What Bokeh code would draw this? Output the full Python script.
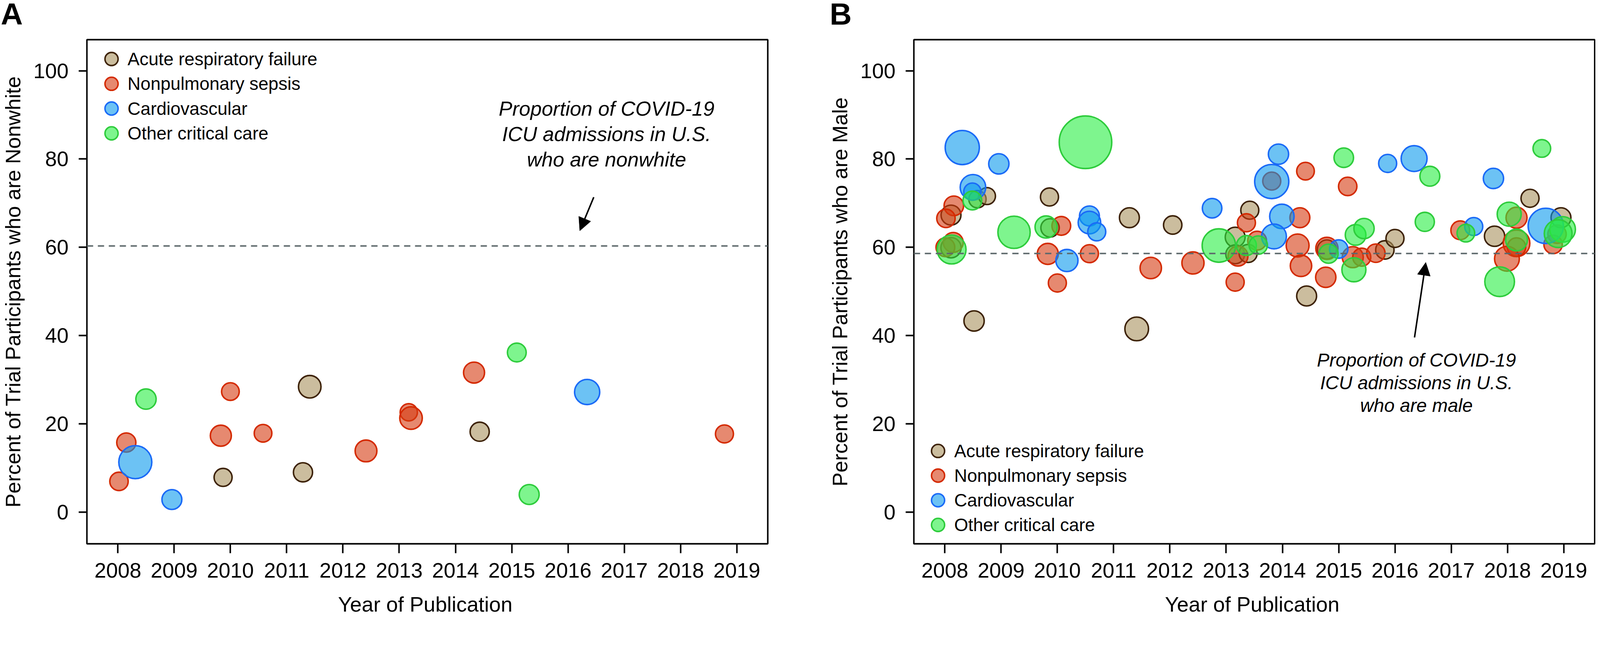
from bokeh.plotting import figure
from bokeh.models import (Span, Label, Arrow, NormalHead, FixedTicker,
                          ColumnDataSource, Range1d, Div)
from bokeh.layouts import row, column
from bokeh.embed import file_html
from bokeh.resources import INLINE

# ---------------- data ----------------
CATEGORIES = ["Acute respiratory failure", "Nonpulmonary sepsis",
              "Cardiovascular", "Other critical care"]
YEAR_TICKS = list(range(2008, 2020))
PCT_TICKS = [0, 20, 40, 60, 80, 100]
X_TITLE = "Year of Publication"

# Panel A: percent nonwhite (year, percent, relative bubble diameter)
A_arf_year = [2011.41, 2009.87, 2011.29, 2014.43]
A_arf_pct = [28.4, 7.85, 9.0, 18.2]
A_arf_bub = [64, 52, 55, 55]
A_sep_year = [2010.0, 2013.17, 2013.21, 2008.15, 2008.02, 2009.83, 2010.58, 2012.41, 2014.33, 2018.78]
A_sep_pct = [27.3, 22.6, 21.3, 15.75, 6.95, 17.3, 17.85, 13.85, 31.6, 17.7]
A_sep_bub = [51, 50, 64, 55, 53, 60, 51, 62, 60, 52]
A_cv_year = [2008.31, 2008.96, 2016.34]
A_cv_pct = [11.3, 2.83, 27.2]
A_cv_bub = [92, 57, 71]
A_oth_year = [2008.50, 2015.09, 2015.31]
A_oth_pct = [25.6, 36.15, 3.97]
A_oth_bub = [58, 54, 57]
A_covid_ref = 60.3

# Panel B: percent male
B_arf_year = [2008.58, 2008.75, 2008.11, 2009.86, 2009.87, 2008.11, 2008.52, 2011.41, 2011.28,
              2012.05, 2013.16, 2013.42, 2013.16, 2013.39, 2014.43, 2014.79, 2015.82, 2016.0,
              2018.40, 2017.77, 2018.95]
B_arf_pct = [70.9, 71.6, 67.3, 71.4, 64.4, 59.9, 43.3, 41.5, 66.7,
             65.05, 62.3, 68.4, 58.4, 58.6, 48.96, 59.5, 59.4, 62.0,
             71.1, 62.5, 66.7]
B_arf_bub = [50, 49, 57, 52, 53, 58, 58, 67, 57,
             53, 57, 52, 54, 52, 57, 55, 53, 52,
             52, 58, 57]
B_sep_year = [2008.16, 2008.02, 2010.07, 2009.83, 2010.0, 2010.57, 2008.15, 2008.01, 2011.66,
              2012.41, 2013.36, 2013.16, 2013.21, 2013.55, 2013.81, 2014.41, 2014.31, 2014.27,
              2014.33, 2014.77, 2014.79, 2015.16, 2015.25, 2015.41, 2015.66, 2017.16, 2018.16,
              2018.16, 2018.16, 2017.99, 2018.88, 2018.81]
B_sep_pct = [69.4, 66.55, 64.85, 58.5, 51.9, 58.55, 61.1, 60.0, 55.3,
             56.45, 65.55, 52.1, 58.0, 61.5, 75.0, 77.25, 66.7, 60.4,
             55.8, 53.2, 59.75, 73.8, 57.76, 57.76, 58.66, 63.85, 66.7,
             60.9, 60.05, 57.4, 62.98, 60.65]
B_sep_bub = [56, 53, 54, 60, 52, 52, 57, 54, 61,
             63, 52, 52, 57, 54, 52, 51, 57, 65,
             61, 58, 63, 53, 60, 52, 53, 54, 60,
             75, 53, 70, 53, 53]
B_cv_year = [2008.31, 2008.96, 2008.50, 2008.49, 2010.57, 2010.57, 2010.70, 2010.17, 2012.75,
             2013.93, 2013.81, 2013.99, 2013.85, 2015.0, 2015.87, 2016.34, 2017.75, 2017.40,
             2018.68]
B_cv_pct = [82.6, 78.9, 73.6, 72.6, 67.1, 65.6, 63.5, 57.0, 68.85,
            81.1, 74.9, 67.0, 62.45, 59.6, 79.0, 80.1, 75.6, 64.7,
            64.85]
B_cv_bub = [95, 58, 72, 50, 57, 64, 52, 63, 56,
            58, 95, 69, 70, 53, 52, 73, 58, 52,
            98]
B_oth_year = [2010.50, 2008.49, 2009.23, 2009.80, 2008.12, 2012.87, 2013.36, 2013.57, 2014.82,
              2015.09, 2015.30, 2015.45, 2015.27, 2016.62, 2016.53, 2018.61, 2017.26, 2018.03,
              2018.16, 2017.86, 2018.98, 2018.90]
B_oth_pct = [83.8, 70.6, 63.4, 64.6, 59.5, 60.4, 60.4, 60.5, 58.55,
             80.3, 62.8, 64.25, 54.9, 76.1, 65.76, 82.4, 63.2, 67.5,
             61.65, 52.2, 64.05, 63.1]
B_oth_bub = [144, 54, 90, 63, 81, 93, 57, 53, 55,
             56, 59, 58, 68, 57, 55, 51, 51, 68,
             62, 83, 72, 78]
B_covid_ref = 58.6

# ---------------- styles / layout (CSS px) ----------------
FONT = "Liberation Sans"
FILLS = ["#a8915d", "#d53a11", "#0a99ed", "#28ee43"]
LINES = ["#3d2208", "#d42a00", "#1a6af7", "#2ecc3c"]
K = 0.9606           # bubble diameter scale to CSS px
LW = 3.85
X0, X1 = 2007.45, 2019.55
Y0, Y1 = -7.2, 107.05
FW, FH = 1753, 1290
BL, BT, BB = 212, 28, 110
RA, RB = 152, 2
FIG_H = BT + FH + BB
LETTER_H = 73
XTITLE_H = 69


def fx(px):
    """frame pixel offset from the left edge -> data x"""
    return X0 + px * (X1 - X0) / FW


def fy(py):
    """frame pixel offset from the top edge -> data y"""
    return Y1 - py * (Y1 - Y0) / FH


def make_panel(ylabel, series, ref, note, note_px, note_py, note_size, note_step,
               arrow_px, legend_px, border_right):
    p = figure(width=BL + FW + border_right, height=FIG_H, title=None,
               x_range=Range1d(X0, X1), y_range=Range1d(Y0, Y1),
               output_backend="svg", toolbar_location=None,
               min_border_left=BL, min_border_right=border_right,
               min_border_top=BT, min_border_bottom=BB)
    p.background_fill_color = "white"
    p.border_fill_color = "white"
    p.outline_line_color = "black"
    p.outline_line_width = LW
    p.xgrid.visible = False
    p.ygrid.visible = False

    p.xaxis.ticker = FixedTicker(ticks=YEAR_TICKS)
    p.yaxis.ticker = FixedTicker(ticks=PCT_TICKS)
    for ax in (p.xaxis[0], p.yaxis[0]):
        ax.axis_line_color = None
        ax.major_tick_line_color = "black"
        ax.major_tick_line_width = LW
        ax.major_tick_in = 0
        ax.minor_tick_line_color = None
        ax.major_label_text_font = FONT
        ax.major_label_text_font_size = "54px"
        ax.major_label_text_color = "black"
        ax.axis_label_text_font = FONT
        ax.axis_label_text_font_size = "53.8px"
        ax.axis_label_text_font_style = "normal"
        ax.axis_label_text_color = "black"
    p.xaxis.major_tick_out = 24
    p.yaxis.major_tick_out = 21
    p.xaxis.major_label_standoff = 25
    p.yaxis.major_label_standoff = 26
    p.yaxis.axis_label = ylabel
    p.yaxis.axis_label_standoff = 19

    p.add_layout(Span(location=ref, dimension="width", line_color="#5d686b",
                      line_width=LW, line_dash="16 12"))

    for cat, (xs, ys, bs), fc, lc in zip(CATEGORIES, series, FILLS, LINES):
        src = ColumnDataSource(dict(x=xs, y=ys, s=[b * K - LW for b in bs]))
        p.scatter("x", "y", size="s", source=src, fill_color=fc, fill_alpha=0.6,
                  line_color=lc, line_width=LW)

    # legend (marker + label per category)
    gx, tx, gy0, step = legend_px
    for i, (cat, fc, lc) in enumerate(zip(CATEGORIES, FILLS, LINES)):
        p.scatter([fx(gx)], [fy(gy0 + i * step)], size=33.6, fill_color=fc, fill_alpha=0.6,
                  line_color=lc, line_width=LW)
        p.add_layout(Label(x=fx(tx), y=fy(gy0 + i * step), text=cat, text_font=FONT,
                           text_font_size="46px", text_align="left",
                           text_baseline="middle", text_color="black"))

    for i, line in enumerate(note):
        p.add_layout(Label(x=fx(note_px), y=fy(note_py + i * note_step), text=line,
                           text_font=FONT, text_font_style="italic",
                           text_font_size=note_size, text_align="center",
                           text_baseline="alphabetic", text_color="black"))
    (ax0, ay0), (ax1, ay1) = arrow_px
    p.add_layout(Arrow(end=NormalHead(size=33, fill_color="black", line_color="black"),
                       x_start=fx(ax0), y_start=fy(ay0), x_end=fx(ax1), y_end=fy(ay1),
                       line_color="black", line_width=LW))
    return p


def letter(text, width, pad):
    return Div(text=(f"<div style=\"font-family:'{FONT}';font-size:78px;font-weight:bold;"
                     f"line-height:{LETTER_H}px;padding-left:{pad}px;margin:0;color:black\">"
                     f"{text}</div>"),
               width=width, height=LETTER_H, margin=0)


def x_title(text, width):
    return Div(text=(f"<div style=\"font-family:'{FONT}';font-size:53.8px;font-weight:normal;"
                     f"line-height:50px;padding-top:20px;margin:0 0 0 {BL}px;width:{FW}px;"
                     f"text-align:center;color:black;white-space:nowrap\">{text}</div>"),
               width=width, height=XTITLE_H, margin=0)


WA = BL + FW + RA
WB = BL + FW + RB

pA = make_panel("Percent of Trial Participants who are Nonwhite",
                [(A_arf_year, A_arf_pct, A_arf_bub), (A_sep_year, A_sep_pct, A_sep_bub),
                 (A_cv_year, A_cv_pct, A_cv_bub), (A_oth_year, A_oth_pct, A_oth_bub)],
                A_covid_ref,
                ["Proportion of COVID-19", "ICU admissions in U.S.", "who are nonwhite"],
                1338, 176, "52px", 65.3, ((1305, 403), (1269, 489)),
                (63.4, 104.7, 49.5, 63.4), RA)

pB = make_panel("Percent of Trial Participants who are Male",
                [(B_arf_year, B_arf_pct, B_arf_bub), (B_sep_year, B_sep_pct, B_sep_bub),
                 (B_cv_year, B_cv_pct, B_cv_bub), (B_oth_year, B_oth_pct, B_oth_bub)],
                B_covid_ref,
                ["Proportion of COVID-19", "ICU admissions in U.S.", "who are male"],
                1294, 820, "48px", 58.1, ((1289, 762), (1318, 570)),
                (62.3, 103.8, 1052.4, 63.1), RB)

layout = column(row(letter("A", WA, 2), letter("B", WB, 7)),
                row(pA, pB),
                row(x_title(X_TITLE, WA), x_title(X_TITLE, WB)))
open("out.html", "w").write(file_html(layout, INLINE))
